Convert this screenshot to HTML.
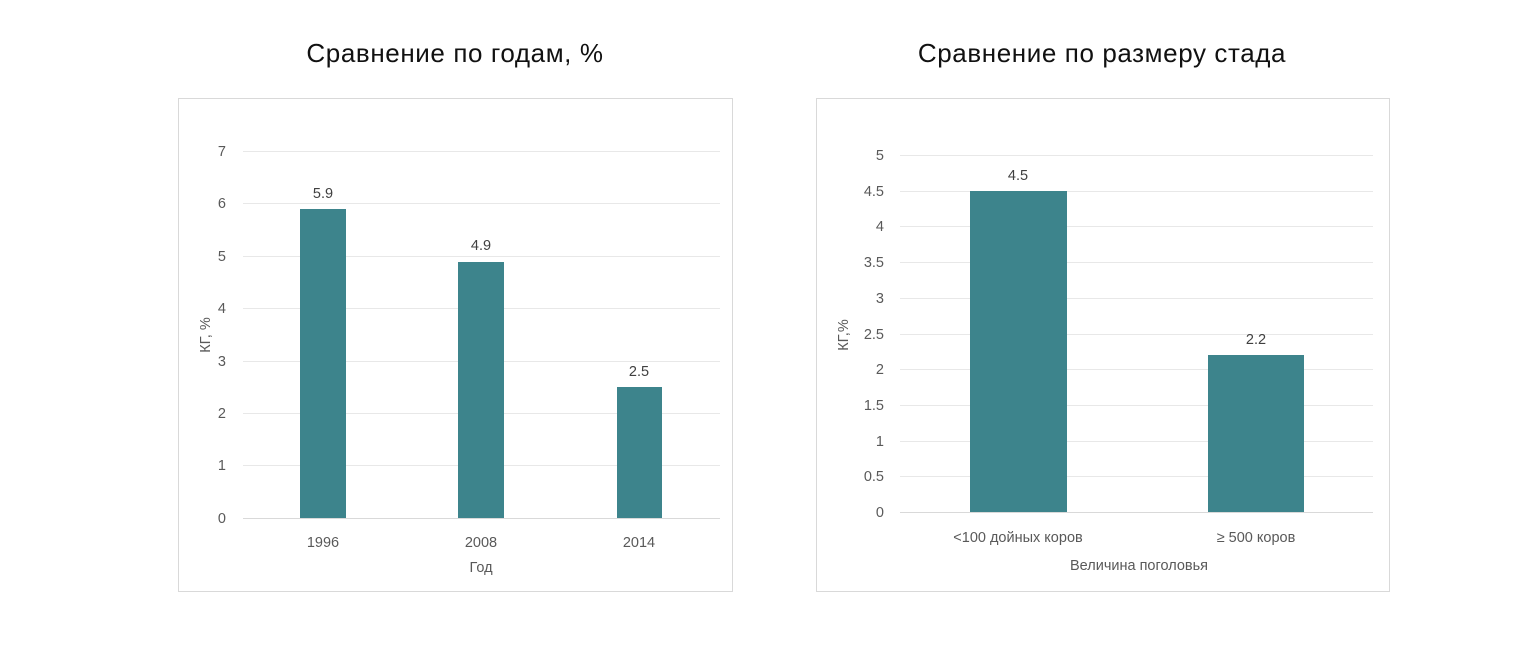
<!DOCTYPE html>
<html><head><meta charset="utf-8"><style>
html,body{margin:0;padding:0;background:#fff;}
svg{display:block;}
.t{font-family:"Liberation Sans","DejaVu Sans",sans-serif;font-size:26px;fill:#111;letter-spacing:0.6px;}
.a{font-family:"Liberation Sans","DejaVu Sans",sans-serif;font-size:14.5px;fill:#595959;}
.v{font-family:"Liberation Sans","DejaVu Sans",sans-serif;font-size:14.5px;fill:#404040;}
</style></head><body>
<svg width="1539" height="656" viewBox="0 0 1539 656" xmlns="http://www.w3.org/2000/svg">
<rect width="1539" height="656" fill="#fff"/>
<text class="t" x="455" y="62" text-anchor="middle">Сравнение по годам, %</text>
<text class="t" x="1102" y="62" text-anchor="middle">Сравнение по размеру стада</text>

<!-- Left chart -->
<rect x="178.5" y="98.5" width="554" height="493" fill="#fff" stroke="#d9d9d9"/>
<g stroke="#e8e8e8" stroke-width="1">
<line x1="243" x2="720" y1="151.5" y2="151.5"/>
<line x1="243" x2="720" y1="203.5" y2="203.5"/>
<line x1="243" x2="720" y1="256.5" y2="256.5"/>
<line x1="243" x2="720" y1="308.5" y2="308.5"/>
<line x1="243" x2="720" y1="361.5" y2="361.5"/>
<line x1="243" x2="720" y1="413.5" y2="413.5"/>
<line x1="243" x2="720" y1="465.5" y2="465.5"/>
</g>
<line x1="243" x2="720" y1="518.5" y2="518.5" stroke="#d9d9d9"/>
<g class="a" text-anchor="end">
<text x="226" y="156">7</text><text x="226" y="208">6</text><text x="226" y="261">5</text>
<text x="226" y="313">4</text><text x="226" y="366">3</text><text x="226" y="418">2</text>
<text x="226" y="470">1</text><text x="226" y="523">0</text>
</g>
<g fill="#3d848c">
<rect x="300" y="209" width="46" height="309"/>
<rect x="458" y="262" width="46" height="256"/>
<rect x="617" y="387" width="45" height="131"/>
</g>
<g class="v" text-anchor="middle">
<text x="323" y="198">5.9</text><text x="481" y="250">4.9</text><text x="639" y="376">2.5</text>
</g>
<g class="a" text-anchor="middle">
<text x="323" y="547">1996</text><text x="481" y="547">2008</text><text x="639" y="547">2014</text>
<text x="481" y="572">Год</text>
</g>
<text class="a" transform="translate(210,335) rotate(-90)" text-anchor="middle">КГ, %</text>

<!-- Right chart -->
<rect x="816.5" y="98.5" width="573" height="493" fill="#fff" stroke="#d9d9d9"/>
<g stroke="#e8e8e8" stroke-width="1">
<line x1="900" x2="1373" y1="155.5" y2="155.5"/>
<line x1="900" x2="1373" y1="191.5" y2="191.5"/>
<line x1="900" x2="1373" y1="226.5" y2="226.5"/>
<line x1="900" x2="1373" y1="262.5" y2="262.5"/>
<line x1="900" x2="1373" y1="298.5" y2="298.5"/>
<line x1="900" x2="1373" y1="334.5" y2="334.5"/>
<line x1="900" x2="1373" y1="369.5" y2="369.5"/>
<line x1="900" x2="1373" y1="405.5" y2="405.5"/>
<line x1="900" x2="1373" y1="441.5" y2="441.5"/>
<line x1="900" x2="1373" y1="476.5" y2="476.5"/>
</g>
<line x1="900" x2="1373" y1="512.5" y2="512.5" stroke="#d9d9d9"/>
<g class="a" text-anchor="end">
<text x="884" y="160">5</text><text x="884" y="196">4.5</text><text x="884" y="231">4</text>
<text x="884" y="267">3.5</text><text x="884" y="303">3</text><text x="884" y="339">2.5</text>
<text x="884" y="374">2</text><text x="884" y="410">1.5</text><text x="884" y="446">1</text>
<text x="884" y="481">0.5</text><text x="884" y="517">0</text>
</g>
<g fill="#3d848c">
<rect x="970" y="191" width="97" height="321"/>
<rect x="1208" y="355" width="96" height="157"/>
</g>
<g class="v" text-anchor="middle">
<text x="1018" y="180">4.5</text><text x="1256" y="344">2.2</text>
</g>
<g class="a" text-anchor="middle">
<text x="1018" y="542">&lt;100 дойных коров</text><text x="1256" y="542">≥ 500 коров</text>
<text x="1139" y="570">Величина поголовья</text>
</g>
<text class="a" transform="translate(848,335) rotate(-90)" text-anchor="middle">КГ,%</text>
</svg>
</body></html>
